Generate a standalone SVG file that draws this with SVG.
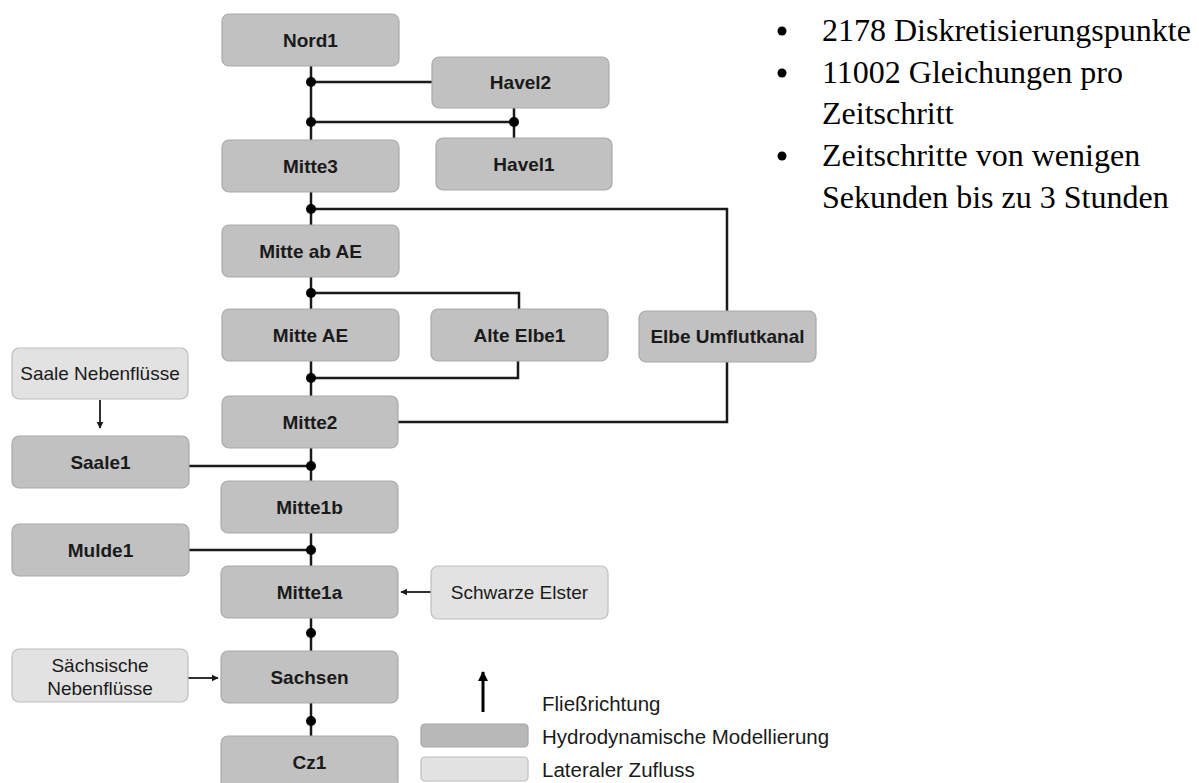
<svg xmlns="http://www.w3.org/2000/svg" width="1199" height="783" viewBox="0 0 1199 783">
<style>
.n rect{fill:#c1c1c1;stroke:#a9a9a9;stroke-width:1.2}
.l rect{fill:#e2e2e2;stroke:#bdbdbd;stroke-width:1.2}
.n text{font-family:"Liberation Sans",Arial,sans-serif;font-weight:bold;font-size:19px;fill:#1a1a1a;text-anchor:middle}
.l text{font-family:"Liberation Sans",Arial,sans-serif;font-size:19px;fill:#1a1a1a;text-anchor:middle}
.c path,.c line{stroke:#1a1a1a;stroke-width:2.5;fill:none}
.c circle{fill:#000}
.lg{font-family:"Liberation Sans",Arial,sans-serif;font-size:20.5px;fill:#1a1a1a}
.b{font-family:"Liberation Serif","Times New Roman",serif;font-size:32px;fill:#000}
</style>
<defs>
<marker id="ah" viewBox="0 0 10 10" refX="9" refY="5" markerWidth="4" markerHeight="4" orient="auto" markerUnits="strokeWidth">
<path d="M0,0 L10,5 L0,10 z" fill="#1a1a1a"/>
</marker>
<marker id="ahb" viewBox="0 0 10 10" refX="9" refY="5" markerWidth="3.5" markerHeight="3.5" orient="auto" markerUnits="strokeWidth">
<path d="M0,0 L10,5 L0,10 z" fill="#000"/>
</marker>
</defs>

<g class="c" id="connectors">
<line x1="311" y1="66" x2="311" y2="140"/>
<line x1="311" y1="82" x2="432" y2="82"/>
<circle cx="311" cy="82" r="5"/>
<line x1="311" y1="122" x2="514" y2="122"/>
<line x1="514" y1="108" x2="514" y2="138"/>
<circle cx="311" cy="122" r="5"/>
<circle cx="514" cy="122" r="5"/>
<line x1="311" y1="192" x2="311" y2="225"/>
<path d="M311,209 H727 V311"/>
<circle cx="311" cy="209" r="5"/>
<line x1="311" y1="277" x2="311" y2="309"/>
<path d="M311,293 H519 V309"/>
<circle cx="311" cy="293" r="5"/>
<line x1="311" y1="361" x2="311" y2="396"/>
<path d="M311,378 H518 V361"/>
<circle cx="311" cy="378" r="5"/>
<path d="M398,422 H727 V362"/>
<line x1="311" y1="448" x2="311" y2="481"/>
<line x1="189" y1="466" x2="311" y2="466"/>
<circle cx="311" cy="466" r="5"/>
<line x1="311" y1="533" x2="311" y2="566"/>
<line x1="189" y1="550" x2="311" y2="550"/>
<circle cx="311" cy="550" r="5"/>
<line x1="311" y1="618" x2="311" y2="651"/>
<circle cx="311" cy="633" r="5"/>
<line x1="311" y1="703" x2="311" y2="736"/>
<circle cx="311" cy="721" r="5"/>
<line x1="100" y1="400" x2="100" y2="428" style="stroke-width:1.8" marker-end="url(#ah)"/>
<line x1="431" y1="592" x2="401" y2="592" style="stroke-width:1.8" marker-end="url(#ah)"/>
<line x1="188" y1="678" x2="218" y2="678" style="stroke-width:1.8" marker-end="url(#ah)"/>
</g>

<g class="n" id="nord1"><rect x="222" y="14" width="177" height="52" rx="7"/><text x="310.5" y="46.5">Nord1</text></g>
<g class="n" id="havel2"><rect x="432" y="57" width="177" height="51" rx="7"/><text x="520.5" y="89">Havel2</text></g>
<g class="n" id="mitte3"><rect x="222" y="140" width="177" height="52" rx="7"/><text x="310.5" y="172.5">Mitte3</text></g>
<g class="n" id="havel1"><rect x="436" y="138" width="176" height="52" rx="7"/><text x="524" y="170.5">Havel1</text></g>
<g class="n" id="mitte-ab-ae"><rect x="222" y="225" width="177" height="52" rx="7"/><text x="310.5" y="257.5">Mitte ab AE</text></g>
<g class="n" id="mitte-ae"><rect x="222" y="309" width="177" height="52" rx="7"/><text x="310.5" y="341.5">Mitte AE</text></g>
<g class="n" id="alte-elbe1"><rect x="431" y="309" width="177" height="52" rx="7"/><text x="519.5" y="341.5">Alte Elbe1</text></g>
<g class="n" id="elbe-umflutkanal"><rect x="639" y="311" width="177" height="51" rx="7"/><text x="727.5" y="343">Elbe Umflutkanal</text></g>
<g class="l" id="saale-nebenfluesse"><rect x="12" y="348" width="176" height="51" rx="7"/><text x="100" y="380">Saale Nebenflüsse</text></g>
<g class="n" id="mitte2"><rect x="222" y="396" width="176" height="52" rx="7"/><text x="310" y="428.5">Mitte2</text></g>
<g class="n" id="saale1"><rect x="12" y="436" width="177" height="52" rx="7"/><text x="100.5" y="468.5">Saale1</text></g>
<g class="n" id="mitte1b"><rect x="221" y="481" width="177" height="52" rx="7"/><text x="309.5" y="513.5">Mitte1b</text></g>
<g class="n" id="mulde1"><rect x="12" y="524" width="177" height="52" rx="7"/><text x="100.5" y="556.5">Mulde1</text></g>
<g class="n" id="mitte1a"><rect x="221" y="566" width="177" height="52" rx="7"/><text x="309.5" y="598.5">Mitte1a</text></g>
<g class="l" id="schwarze-elster"><rect x="431" y="566" width="177" height="53" rx="7"/><text x="519.5" y="599">Schwarze Elster</text></g>
<g class="l" id="saechsische-nebenfluesse"><rect x="12" y="649" width="176" height="53" rx="7"/><text x="100" y="672">Sächsische</text><text x="100" y="695">Nebenflüsse</text></g>
<g class="n" id="sachsen"><rect x="221" y="651" width="177" height="52" rx="7"/><text x="309.5" y="683.5">Sachsen</text></g>
<g class="n" id="cz1"><rect x="221" y="736" width="177" height="52" rx="7"/><text x="309.5" y="768.5">Cz1</text></g>

<g id="legend">
<line x1="483" y1="712" x2="483" y2="672" stroke="#000" stroke-width="3" marker-end="url(#ahb)"/>
<text class="lg" x="542" y="711">Fließrichtung</text>
<rect x="421" y="724" width="107" height="23" rx="4" fill="#b8b8b8" stroke="#a5a5a5" stroke-width="1.2"/>
<text class="lg" x="542" y="744">Hydrodynamische Modellierung</text>
<rect x="421" y="757" width="107" height="24" rx="4" fill="#e2e2e2" stroke="#bdbdbd" stroke-width="1.2"/>
<text class="lg" x="542" y="777">Lateraler Zufluss</text>
</g>

<g id="bullets">
<circle cx="782" cy="31" r="4.5"/>
<text class="b" x="822" y="41">2178 Diskretisierungspunkte</text>
<circle cx="782" cy="73" r="4.5"/>
<text class="b" x="822" y="83">11002 Gleichungen pro</text>
<text class="b" x="822" y="124">Zeitschritt</text>
<circle cx="782" cy="156" r="4.5"/>
<text class="b" x="822" y="166">Zeitschritte von wenigen</text>
<text class="b" x="822" y="208">Sekunden bis zu 3 Stunden</text>
</g>
</svg>
